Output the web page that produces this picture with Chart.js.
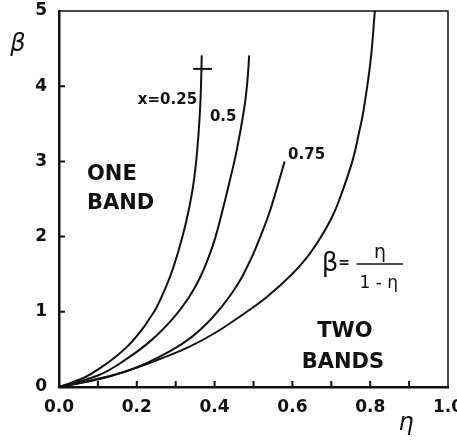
<!DOCTYPE html>
<html>
<head>
<meta charset="utf-8">
<script src="https://cdn.jsdelivr.net/npm/chart.js@4.4.1/dist/chart.umd.min.js"></script>
<style>
  html, body { margin: 0; padding: 0; background: #fff; }
  canvas { display: block; }
</style>
</head>
<body>
<canvas id="c" width="457" height="440"></canvas>
<script>
// Band-boundary curves: beta versus eta for several compositions x
const etaX025  = [0, 0.067, 0.111, 0.145, 0.174, 0.197, 0.217, 0.234, 0.250, 0.275, 0.294, 0.317, 0.335, 0.348, 0.358, 0.364, 0.367];
const betaX025 = [0, 0.13, 0.27, 0.40, 0.53, 0.66, 0.79, 0.92, 1.05, 1.33, 1.59, 1.99, 2.39, 2.79, 3.32, 3.85, 4.41];

const etaX050  = [0, 0.103, 0.170, 0.237, 0.296, 0.335, 0.363, 0.385, 0.402, 0.419, 0.438, 0.457, 0.476, 0.484, 0.489];
const betaX050 = [0, 0.16, 0.36, 0.62, 0.93, 1.20, 1.46, 1.73, 1.99, 2.32, 2.72, 3.15, 3.70, 4.05, 4.41];

const etaX075  = [0, 0.123, 0.213, 0.290, 0.340, 0.383, 0.417, 0.446, 0.470, 0.496, 0.517, 0.541, 0.561, 0.580];
const betaX075 = [0, 0.13, 0.29, 0.49, 0.66, 0.86, 1.06, 1.26, 1.46, 1.73, 1.99, 2.32, 2.66, 3.0];

// Limiting curve beta = eta / (1 - eta)
const etaLimit  = [0, 0.085, 0.167, 0.254, 0.337, 0.406, 0.488, 0.535, 0.599, 0.640, 0.674, 0.700, 0.720, 0.754, 0.772, 0.783, 0.801, 0.812];
const betaLimit = [0, 0.09, 0.20, 0.36, 0.54, 0.735, 1.02, 1.20, 1.50, 1.74, 2.0, 2.24, 2.48, 3.0, 3.40, 3.68, 4.34, 5.0];

// Short crossbar on the x = 0.25 curve
const crossEta  = [0.345, 0.393];
const crossBeta = [4.23, 4.23];

// Axis ticks
const etaLabelTicks = [0.0, 0.2, 0.4, 0.6, 0.8, 1.0];
const etaMinorTicks = [0.1, 0.2, 0.3, 0.4, 0.5, 0.6, 0.7, 0.8, 0.9];
const betaTicks     = [0, 1, 2, 3, 4, 5];

const toPoints = (xs, ys) => xs.map((x, i) => ({ x, y: ys[i] }));

const lineStyle = {
  showLine: true,
  borderColor: '#111',
  borderWidth: 2,
  pointRadius: 0,
  fill: false,
  tension: 0.4
};

const FONT = '"DejaVu Sans", sans-serif';

const decor = {
  id: 'decor',
  afterDraw(chart) {
    const { ctx, chartArea: a, scales: { x, y } } = chart;
    ctx.save();
    ctx.strokeStyle = '#111';
    ctx.fillStyle = '#111';

    // top and right frame
    ctx.lineWidth = 1.5;
    ctx.beginPath();
    ctx.moveTo(a.left, a.top);
    ctx.lineTo(a.right, a.top);
    ctx.lineTo(a.right, a.bottom);
    ctx.stroke();

    // inward tick marks
    ctx.lineWidth = 2;
    ctx.beginPath();
    etaMinorTicks.forEach(v => {
      const px = x.getPixelForValue(v);
      ctx.moveTo(px, a.bottom);
      ctx.lineTo(px, a.bottom - 6);
    });
    betaTicks.slice(1, -1).forEach(v => {
      const py = y.getPixelForValue(v);
      ctx.moveTo(a.left, py);
      ctx.lineTo(a.left + 6, py);
    });
    ctx.stroke();

    const text = (s, ex, by, size, align, weight) => {
      ctx.font = `${weight || 'bold'} ${size}px ${FONT}`;
      ctx.textAlign = align || 'left';
      ctx.textBaseline = 'middle';
      ctx.fillText(s, x.getPixelForValue(ex), y.getPixelForValue(by));
    };

    // curve labels
    text('x=0.25', 0.355, 3.81, 15, 'right');
    text('0.5', 0.388, 3.59, 15, 'left');
    text('0.75', 0.589, 3.09, 15, 'left');

    // region labels
    text('ONE', 0.072, 2.83, 21, 'left');
    text('BAND', 0.072, 2.44, 21, 'left');
    text('TWO', 0.735, 0.74, 21, 'center');
    text('BANDS', 0.73, 0.32, 21, 'center');

    // formula beta = eta / (1 - eta)
    text('\u03B2', 0.697, 1.63, 26, 'center', 'normal');
    text('=', 0.733, 1.64, 14, 'center', 'bold');
    text('\u03B7', 0.825, 1.78, 19, 'center', 'normal');
    text('1 - \u03B7', 0.822, 1.38, 17, 'center', 'normal');
    ctx.lineWidth = 1.5;
    ctx.beginPath();
    ctx.moveTo(x.getPixelForValue(0.765), y.getPixelForValue(1.635));
    ctx.lineTo(x.getPixelForValue(0.884), y.getPixelForValue(1.635));
    ctx.stroke();

    // axis titles
    ctx.font = `italic 24px ${FONT}`;
    ctx.textAlign = 'center';
    ctx.textBaseline = 'middle';
    ctx.fillText('\u03B2', 18, 45);
    ctx.fillText('\u03B7', 406, 424);

    ctx.restore();
  }
};

new Chart(document.getElementById('c'), {
  type: 'scatter',
  data: {
    datasets: [
      { ...lineStyle, data: toPoints(etaX025, betaX025) },
      { ...lineStyle, data: toPoints(etaX050, betaX050) },
      { ...lineStyle, data: toPoints(etaX075, betaX075) },
      { ...lineStyle, data: toPoints(etaLimit, betaLimit) },
      { ...lineStyle, tension: 0, data: toPoints(crossEta, crossBeta) }
    ]
  },
  options: {
    responsive: false,
    animation: false,
    devicePixelRatio: 1,
    layout: { padding: { left: 0, top: 11, right: 9, bottom: 0 } },
    plugins: { legend: { display: false }, tooltip: { enabled: false } },
    scales: {
      x: {
        type: 'linear',
        min: 0, max: 1,
        afterBuildTicks: s => { s.ticks = etaLabelTicks.map(v => ({ value: v })); },
        afterFit: s => { s.height = 53; s.paddingLeft = 0; s.paddingRight = 0; },
        grid: { display: false, drawTicks: false },
        border: { display: true, color: '#111', width: 2.5 },
        ticks: {
          color: '#111',
          padding: 10,
          maxRotation: 0,
          autoSkip: false,
          font: { family: FONT, size: 17, weight: 'bold' },
          callback: v => Number(v).toFixed(1)
        }
      },
      y: {
        type: 'linear',
        min: 0, max: 5,
        afterBuildTicks: s => { s.ticks = betaTicks.map(v => ({ value: v })); },
        afterFit: s => { s.width = 59; s.paddingTop = 0; s.paddingBottom = 0; },
        grid: { display: false, drawTicks: false },
        border: { display: true, color: '#111', width: 2.5 },
        ticks: {
          color: '#111',
          padding: 12,
          autoSkip: false,
          font: { family: FONT, size: 17, weight: 'bold' },
          callback: v => String(v)
        }
      }
    }
  },
  plugins: [decor]
});
</script>
</body>
</html>
